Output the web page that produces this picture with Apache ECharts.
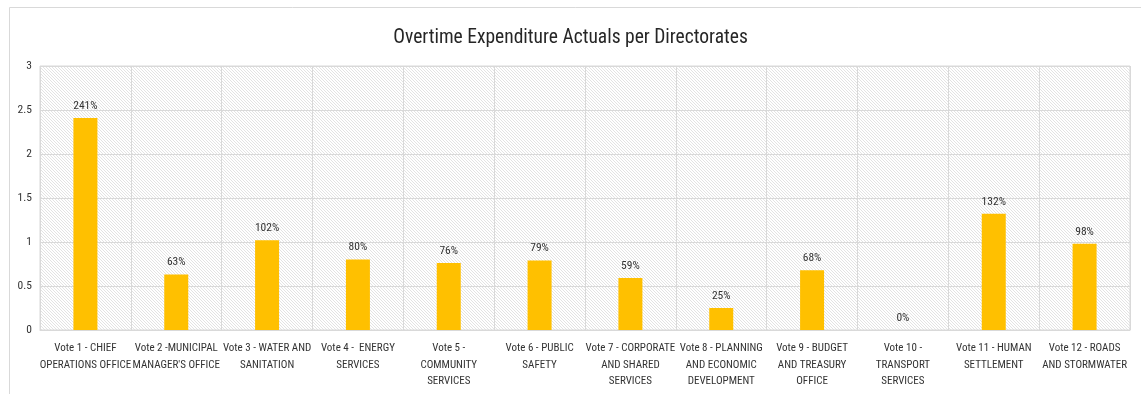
<!DOCTYPE html>
<html>
<head>
<meta charset="utf-8">
<style>
  html, body { margin: 0; padding: 0; background: #ffffff; }
  #chart { width: 1141px; height: 394px; }
</style>
<script src="https://cdn.jsdelivr.net/npm/echarts@6/dist/echarts.min.js"></script>
</head>
<body>
<div id="chart"></div>
<script>
// Directorate names (line breaks as wrapped under each bar)
const categories = [
  "Vote 1 - CHIEF\nOPERATIONS OFFICE",
  "Vote 2 -MUNICIPAL\nMANAGER'S OFFICE",
  "Vote 3 - WATER AND\nSANITATION",
  "Vote 4 -  ENERGY\nSERVICES",
  "Vote 5 -\nCOMMUNITY\nSERVICES",
  "Vote 6 - PUBLIC\nSAFETY",
  "Vote 7 - CORPORATE\nAND SHARED\nSERVICES",
  "Vote 8 - PLANNING\nAND ECONOMIC\nDEVELOPMENT",
  "Vote 9 - BUDGET\nAND TREASURY\nOFFICE",
  "Vote 10 -\nTRANSPORT\nSERVICES",
  "Vote 11 - HUMAN\nSETTLEMENT",
  "Vote 12 - ROADS\nAND STORMWATER"
];

// Overtime actuals as a ratio of budget (1 = 100%)
const actuals = [2.41, 0.63, 1.02, 0.80, 0.76, 0.79, 0.59, 0.25, 0.68, 0, 1.32, 0.98];

const yTicks = { min: 0, max: 3, interval: 0.5 };

const FONT = "'Roboto Condensed', 'Open Sans', sans-serif";

// Fine, faint diagonal hatching for the plot background
function hatchPattern() {
  const c = document.createElement('canvas');
  const s = 3;
  c.width = s; c.height = s;
  const g = c.getContext('2d');
  g.fillStyle = '#ffffff';
  g.fillRect(0, 0, s, s);
  g.strokeStyle = '#e3e3e3';
  g.lineWidth = 1;
  g.beginPath();
  g.moveTo(-1, -1); g.lineTo(s + 1, s + 1);
  g.moveTo(-1, s - 1); g.lineTo(1, s + 1);
  g.moveTo(s - 1, -1); g.lineTo(s + 1, 1);
  g.stroke();
  return { image: c, repeat: 'repeat' };
}

const chart = echarts.init(document.getElementById('chart'));
chart.setOption({
  animation: false,
  backgroundColor: '#ffffff',
  title: {
    text: 'Overtime Expenditure Actuals per Directorates',
    left: 'center',
    top: 23,
    textStyle: { fontFamily: FONT, fontSize: 19.5, fontWeight: 'normal', color: '#262626' }
  },
  graphic: [{
    type: 'rect',
    shape: { x: 9.5, y: 7.5, width: 1140, height: 400 },
    style: { fill: 'none', stroke: '#d9d9d9', lineWidth: 1 },
    silent: true
  }],
  grid: {
    left: 40, right: 11, top: 66, bottom: 64,
    show: true,
    backgroundColor: hatchPattern(),
    borderColor: '#d9d9d9',
    borderWidth: 1
  },
  xAxis: {
    type: 'category',
    data: categories,
    axisLine: { show: true, lineStyle: { color: '#d9d9d9' } },
    axisTick: { show: false },
    splitLine: { show: true, lineStyle: { color: '#d9d9d9', width: 1 } },
    axisLabel: {
      interval: 0,
      margin: 10,
      fontFamily: FONT,
      fontSize: 11,
      lineHeight: 16.5,
      color: '#333333'
    }
  },
  yAxis: {
    type: 'value',
    min: yTicks.min,
    max: yTicks.max,
    interval: yTicks.interval,
    axisLine: { show: false },
    axisTick: { show: false },
    splitLine: { show: true, lineStyle: { color: '#d9d9d9', width: 1 } },
    axisLabel: { margin: 8, fontFamily: FONT, fontSize: 11.5, color: '#333333' }
  },
  series: [{
    type: 'bar',
    data: actuals,
    barWidth: 24,
    itemStyle: { color: '#FFC000' },
    label: {
      show: true,
      position: 'top',
      distance: 6,
      fontFamily: FONT,
      fontSize: 11.5,
      color: '#333333',
      formatter: p => Math.round(p.value * 100) + '%'
    }
  }]
});
</script>
</body>
</html>
